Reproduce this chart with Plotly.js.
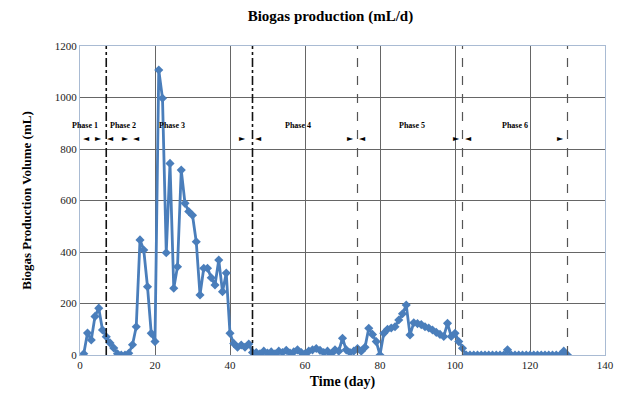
<!DOCTYPE html>
<html>
<head>
<meta charset="utf-8">
<script src="https://cdn.plot.ly/plotly-3.0.1.min.js"></script>
<style>html,body{margin:0;padding:0;background:#fff;}#chart{width:627px;height:405px;}</style>
</head>
<body>
<div id="chart"></div>
<script>
// Time (day)
const days = [1,2,3,4,5,6,7,8,9,10,11,12,13,14,15,16,17,18,19,20,
  21,22,23,24,25,26,27,28,29,30,31,32,33,34,35,36,37,38,39,40,
  41,42,43,44,45,46,47,48,49,50,51,52,53,54,55,56,57,58,59,60,
  61,62,63,64,65,66,67,68,69,70,71,72,73,74,75,76,77,78,79,80,
  81,82,83,84,85,86,87,88,89,90,91,92,93,94,95,96,97,98,99,100,
  101,102,103,104,105,106,107,108,109,110,111,112,113,114,115,116,117,118,119,120,
  121,122,123,124,125,126,127,128,129,130];
// Biogas production volume (mL)
const volume = [5,85,58,150,182,97,71,47,27,5,0,0,7,40,110,447,408,265,84,52,
  1107,997,397,744,259,343,718,589,557,543,440,233,337,337,300,272,369,246,318,84,
  45,30,39,30,43,10,10,5,15,8,12,5,15,10,18,8,12,20,10,5,
  15,20,25,18,10,15,5,20,15,65,20,10,15,25,15,30,104,80,52,0,
  84,100,105,110,136,160,194,78,125,122,118,110,105,97,88,80,72,123,72,84,
  52,26,0,0,0,0,0,0,0,0,0,0,0,20,0,0,0,0,0,0,
  0,0,0,0,0,0,0,0,15,0];

// Phase boundaries (day)
const boundaries = [7, 46, 74, 102, 130];
const phaseNames = ["Phase 1","Phase 2","Phase 3","Phase 4","Phase 5","Phase 6"];
const phaseLabelDay = [1.3, 11.5, 24.5, 58, 88.5, 116];
const leftArrowDay = [1.8, 8, 15.1, 47.5, 75.2, 103.7];
const rightArrowDay = [4.9, 12, 43.2, 72, 100.3, 128];
const xTicks = [0,20,40,60,80,100,120,140];
const yTicks = [0,200,400,600,800,1000,1200];

const serif = "Liberation Serif, Times New Roman, serif";
const blue = "#4A7EBB";

const shapes = boundaries.map((d, i) => ({
  type: "line", xref: "x", yref: "y", x0: d, x1: d, y0: 0, y1: 1200,
  line: i < 2 ? {color: "#111", width: 1.6, dash: "dashdot"}
              : {color: "#555", width: 1.2, dash: "dash"}
}));

const annotations = [];
phaseNames.forEach((n, i) => annotations.push({
  x: phaseLabelDay[i], y: 893, xref: "x", yref: "y", text: n, showarrow: false,
  font: {family: serif, size: 8, color: "#000", weight: "bold"}
}));
leftArrowDay.forEach(d => annotations.push({
  x: d, y: 839, xref: "x", yref: "y", text: "\u25C4", showarrow: false,
  font: {family: "DejaVu Sans", size: 8, color: "#000"}
}));
rightArrowDay.forEach(d => annotations.push({
  x: d, y: 839, xref: "x", yref: "y", text: "\u25BA", showarrow: false,
  font: {family: "DejaVu Sans", size: 8, color: "#000"}
}));

const trace = {
  x: days, y: volume, type: "scatter", mode: "lines+markers",
  line: {color: blue, width: 2.8},
  marker: {symbol: "diamond", size: 7, color: blue},
  hoverinfo: "x+y"
};

const layout = {
  width: 627, height: 405,
  margin: {l: 80, r: 22, t: 46, b: 50},
  paper_bgcolor: "#fff", plot_bgcolor: "#fff",
  showlegend: false,
  title: {text: "Biogas production (mL/d)", x: 0.527, xref: "container", xanchor: "center",
    y: 0.962, yanchor: "middle",
    font: {family: serif, size: 15, color: "#000", weight: "bold"}},
  xaxis: {
    range: [0, 140], tickvals: xTicks, ticktext: xTicks.map(String),
    showgrid: true, gridcolor: "#666", gridwidth: 1,
    showline: true, linecolor: "#a9bbd3", linewidth: 1, mirror: true,
    zeroline: false, ticks: "",
    tickfont: {family: serif, size: 11, color: "#222"},
    title: {text: "Time (day)", standoff: 5, font: {family: serif, size: 14, color: "#000", weight: "bold"}}
  },
  yaxis: {
    range: [0, 1200], tickvals: yTicks, ticktext: yTicks.map(String),
    showgrid: true, gridcolor: "#666", gridwidth: 1,
    showline: true, linecolor: "#a9bbd3", linewidth: 1, mirror: true,
    zeroline: false, ticks: "",
    tickfont: {family: serif, size: 11, color: "#222"},
    title: {text: "Biogas Production Volume (mL)", standoff: 20, font: {family: serif, size: 13, color: "#000", weight: "bold"}}
  },
  shapes: shapes,
  annotations: annotations
};

Plotly.newPlot("chart", [trace], layout, {displayModeBar: false, staticPlot: true});
</script>
</body>
</html>
